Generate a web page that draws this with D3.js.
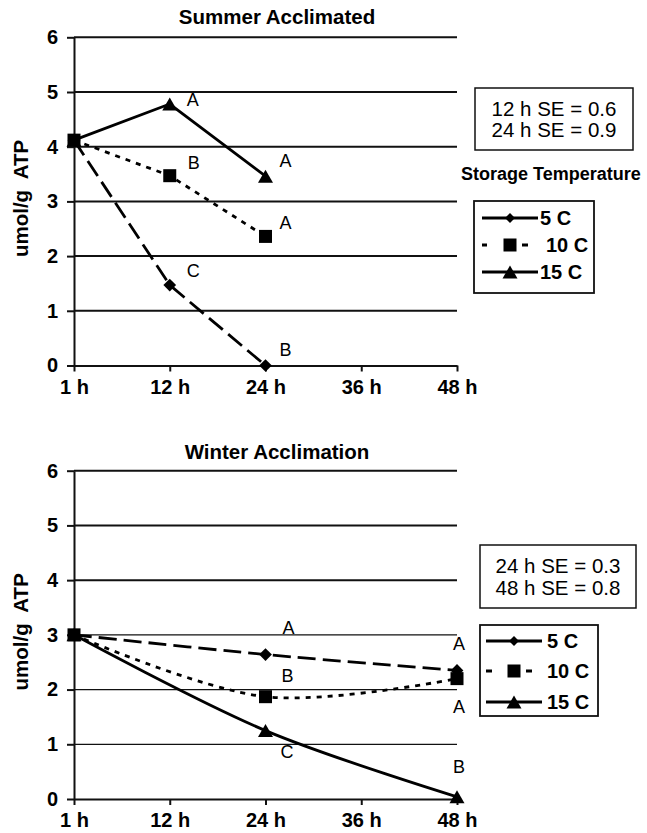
<!DOCTYPE html>
<html>
<head>
<meta charset="utf-8">
<script src="https://cdn.jsdelivr.net/npm/d3@7"></script>
<style>
  body { margin: 0; background: #fff; }
  text { font-family: 'Liberation Sans', Arial, Helvetica, sans-serif; fill: #000; }
</style>
</head>
<body>
<div id="graf"></div>
<script>
// -- Datos
times = ['1 h', '12 h', '24 h', '36 h', '48 h']
yTicks = [0, 1, 2, 3, 4, 5, 6]
seriesNames = ['5 C', '10 C', '15 C']

summer5C  = [4.12, 1.47, 0.00, null, null]
summer10C = [4.12, 3.47, 2.36, null, null]
summer15C = [4.12, 4.78, 3.46, null, null]
summerLetters5C  = [null, 'C', 'B', null, null]
summerLetters10C = [null, 'B', 'A', null, null]
summerLetters15C = [null, 'A', 'A', null, null]
summerSE = ['12 h SE = 0.6', '24 h SE = 0.9']

winter5C  = [3.00, null, 2.64, null, 2.35]
winter10C = [3.00, null, 1.87, null, 2.20]
winter15C = [3.00, null, 1.25, null, 0.04]
winterLetters5C  = [null, null, 'A', null, 'A']
winterLetters10C = [null, null, 'B', null, 'A']
winterLetters15C = [null, null, 'C', null, 'B']
winterSE = ['24 h SE = 0.3', '48 h SE = 0.8']

// -- Estilo por serie
estilos = [
  { dash: '18,7', marker: 'diamond' },
  { dash: '5,6', marker: 'square' },
  { dash: null, marker: 'triangle' }
]

// -- Configuración del canvas
ancho_total = 647
alto_total = 833

svg = d3.select('#graf').append('svg')
        .attr('width', ancho_total)
        .attr('height', alto_total)

x = d3.scalePoint().domain(times).range([74, 457])

function marcador (g, tipo, cx, cy, legend) {
  if (tipo === 'diamond') {
    let s = legend ? 7 : 9
    g.append('rect')
      .attr('x', -s / 2).attr('y', -s / 2)
      .attr('width', s).attr('height', s)
      .attr('transform', `translate(${cx},${cy}) rotate(45)`)
      .attr('fill', '#000')
  } else if (tipo === 'square') {
    let s = 13
    g.append('rect')
      .attr('x', cx - s / 2).attr('y', cy - s / 2)
      .attr('width', s).attr('height', s)
      .attr('fill', '#000')
  } else {
    let w = 15, h = 13
    g.append('path')
      .attr('d', `M${cx},${cy - h / 2}L${cx + w / 2},${cy + h / 2}L${cx - w / 2},${cy + h / 2}Z`)
      .attr('fill', '#000')
  }
}

function panel (cfg) {
  let g = svg.append('g')
  let y = d3.scaleLinear().domain([0, 6]).range(cfg.yRange)

  // -- Título
  g.append('text')
    .attr('x', 277)
    .attr('y', cfg.titleY)
    .attr('text-anchor', 'middle')
    .attr('font-size', '20.5px')
    .attr('font-weight', 'bold')
    .text(cfg.title)

  // -- Grid
  g.selectAll('.grid')
    .data(yTicks.filter(d => d > 0))
    .enter().append('line')
      .attr('x1', 74).attr('x2', 457)
      .attr('y1', d => y(d)).attr('y2', d => y(d))
      .attr('stroke', '#111')
      .attr('stroke-width', d => cfg.thinBelow && d <= cfg.thinBelow ? 1.3 : 2)

  // -- Ejes
  yAxis = d3.axisLeft(y).tickValues(yTicks).tickFormat(d3.format('d'))
            .tickSize(7).tickSizeOuter(0).tickPadding(9)
  xAxis = d3.axisBottom(x).tickSize(6).tickSizeOuter(0).tickPadding(8)

  let ay = g.append('g').attr('transform', 'translate(74,0)').call(yAxis)
  let ax = g.append('g').attr('transform', `translate(0,${y(0)})`).call(xAxis)
  ;[ay, ax].forEach(a => {
    a.selectAll('path, line').attr('stroke', '#111').attr('stroke-width', 2)
    a.selectAll('text')
      .attr('font-family', "'Liberation Sans', Arial, sans-serif")
      .attr('font-size', '20px')
      .attr('font-weight', 'bold')
      .attr('fill', '#000')
  })

  // -- Etiqueta eje Y
  g.append('text')
    .attr('transform', `translate(28,${(cfg.yRange[0] + cfg.yRange[1]) / 2 - 3}) rotate(-90)`)
    .attr('text-anchor', 'middle')
    .attr('font-size', '20.5px')
    .attr('font-weight', 'bold')
    .style('white-space', 'pre')
    .text('umol/g  ATP')

  // -- Series
  let linea = d3.line()
                .x(d => x(d.t))
                .y(d => y(d.v))
                .curve(cfg.curve)

  cfg.series.forEach((serie, i) => {
    let pts = serie.map((v, j) => ({ t: times[j], v: v })).filter(d => d.v !== null)
    g.append('path')
      .datum(pts)
      .attr('d', linea)
      .attr('fill', 'none')
      .attr('stroke', '#000')
      .attr('stroke-width', 2.8)
      .attr('stroke-dasharray', estilos[i].dash)
  })
  cfg.series.forEach((serie, i) => {
    serie.forEach((v, j) => {
      if (v !== null) marcador(g, estilos[i].marker, x(times[j]), y(v), false)
    })
  })

  // -- Letras de significancia
  cfg.letters.forEach((fila, i) => {
    fila.forEach((l, j) => {
      if (l === null) return
      let off = cfg.letterOffsets[i][j]
      g.append('text')
        .attr('x', x(times[j]) + off[0])
        .attr('y', y(cfg.series[i][j]) + off[1])
        .attr('font-size', '18px')
        .text(l)
    })
  })

  // -- Cuadro de SE
  let se = cfg.seBox
  g.append('rect')
    .attr('x', se.x).attr('y', se.y)
    .attr('width', se.w).attr('height', se.h)
    .attr('fill', 'none')
    .attr('stroke', '#111')
    .attr('stroke-width', 1.5)
  cfg.seText.forEach((t, i) => {
    g.append('text')
      .attr('x', se.x + se.w / 2)
      .attr('y', se.base[i])
      .attr('text-anchor', 'middle')
      .attr('font-size', '20.5px')
      .text(t)
  })

  if (cfg.storage) {
    g.append('text')
      .attr('x', cfg.storage[0])
      .attr('y', cfg.storage[1])
      .attr('font-size', '18px')
      .attr('font-weight', 'bold')
      .text('Storage Temperature')
  }

  // -- Leyenda
  let lg = cfg.legend
  g.append('rect')
    .attr('x', lg.x).attr('y', lg.y)
    .attr('width', lg.w).attr('height', lg.h)
    .attr('fill', 'none')
    .attr('stroke', '#111')
    .attr('stroke-width', 1.8)
  seriesNames.forEach((nombre, i) => {
    let ry = lg.rows[i]
    if (i === 1) {
      g.append('line')
        .attr('x1', lg.line[0]).attr('x2', lg.dashEnd)
        .attr('y1', ry).attr('y2', ry)
        .attr('stroke', '#000').attr('stroke-width', 2.8)
        .attr('stroke-dasharray', lg.dash)
    } else {
      g.append('line')
        .attr('x1', lg.line[0]).attr('x2', lg.line[1])
        .attr('y1', ry).attr('y2', ry)
        .attr('stroke', '#000').attr('stroke-width', 2.8)
    }
    marcador(g, estilos[i].marker, lg.mark, ry, true)
    g.append('text')
      .attr('x', lg.textX[i])
      .attr('y', ry)
      .attr('dy', '0.36em')
      .attr('font-size', '20px')
      .attr('font-weight', 'bold')
      .text(nombre)
  })
}

panel({
  title: 'Summer Acclimated',
  titleY: 24,
  yRange: [365.5, 37.3],
  curve: d3.curveLinear,
  series: [summer5C, summer10C, summer15C],
  letters: [summerLetters5C, summerLetters10C, summerLetters15C],
  letterOffsets: [
    [null, [17, -8], [14, -10], null, null],
    [null, [18, -7], [14, -7], null, null],
    [null, [17, 1.5], [14, -9], null, null]
  ],
  seText: summerSE,
  seBox: { x: 475, y: 88, w: 158, h: 62, base: [115.5, 136.7] },
  storage: [461, 180],
  legend: { x: 474, y: 201, w: 120, h: 92, rows: [218, 245, 272],
            line: [482, 538], dashEnd: 528, dash: '5,35,6', mark: 510, textX: [540, 546, 540] }
})

panel({
  title: 'Winter Acclimation',
  titleY: 459,
  yRange: [799, 470.7],
  curve: d3.curveCatmullRom,
  thinBelow: 3,
  series: [winter5C, winter10C, winter15C],
  letters: [winterLetters5C, winterLetters10C, winterLetters15C],
  letterOffsets: [
    [null, null, [17, -21], null, [-4, -20]],
    [null, null, [16, -15], null, [-4, 34]],
    [null, null, [15, 27], null, [-4, -24]]
  ],
  seText: winterSE,
  seBox: { x: 480, y: 545, w: 156, h: 63, base: [573, 595] },
  storage: null,
  legend: { x: 480, y: 625, w: 118, h: 91, rows: [641, 671, 702],
            line: [486, 542], dashEnd: 532, dash: '6,34,6', mark: 514, textX: [547, 547, 547] }
})
</script>
</body>
</html>
